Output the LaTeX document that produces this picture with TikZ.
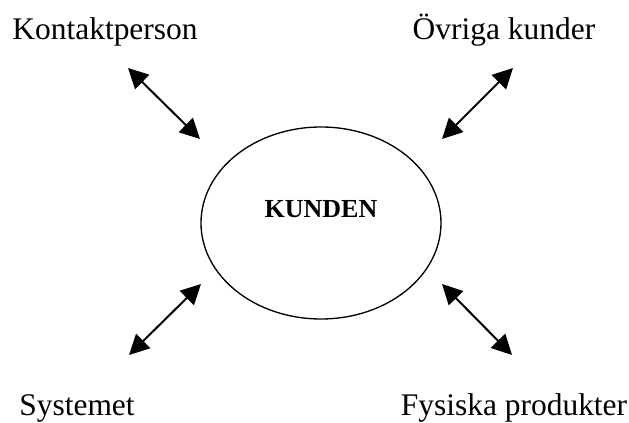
\documentclass[tikz,border=0pt]{standalone}
\usepackage{fontspec}
\setmainfont{Liberation Serif}
\usepackage{tikz}
\usetikzlibrary{shapes.geometric, arrows.meta, positioning}

\begin{document}
\begin{tikzpicture}[
    x=0.75pt, y=-0.75pt,
    label/.style={anchor=base, inner sep=0pt, font=\fontsize{23.6pt}{28pt}\selectfont},
    kund/.style={ellipse, draw, line width=1pt, minimum width=180pt, minimum height=144pt, inner sep=0pt},
    arrow/.style={line width=1.5pt, {Triangle[length=15pt,width=15pt]}-{Triangle[length=15pt,width=15pt]}}
]
\useasboundingbox (0,0) rectangle (629,423);

% Kunden
\node[kund] (kunden) at (321,223) {};
\node[anchor=base, inner sep=0pt, font=\fontsize{19.5pt}{24pt}\selectfont\bfseries] (kundentext) at (321,218) {KUNDEN};

% Labels
\node[label] (kontakt) at (105,40) {Kontaktperson};
\node[label] (ovriga) at (504,40) {Övriga kunder};
\node[label] (system) at (77,416) {Systemet};
\node[label] (fysiska) at (514,416) {Fysiska produkter};

% Arrow ends
\coordinate (kontaktA) at (128,68);
\coordinate (kontaktB) at (200,139);
\coordinate (ovrigaA) at (513,68);
\coordinate (ovrigaB) at (442,139);
\coordinate (systemA) at (201,284);
\coordinate (systemB) at (129,355);
\coordinate (fysiskaA) at (442,284);
\coordinate (fysiskaB) at (512,355);

% Arrows
\draw[arrow] (kontaktA) -- (kontaktB);
\draw[arrow] (ovrigaA) -- (ovrigaB);
\draw[arrow] (systemA) -- (systemB);
\draw[arrow] (fysiskaA) -- (fysiskaB);

\end{tikzpicture}
\end{document}
